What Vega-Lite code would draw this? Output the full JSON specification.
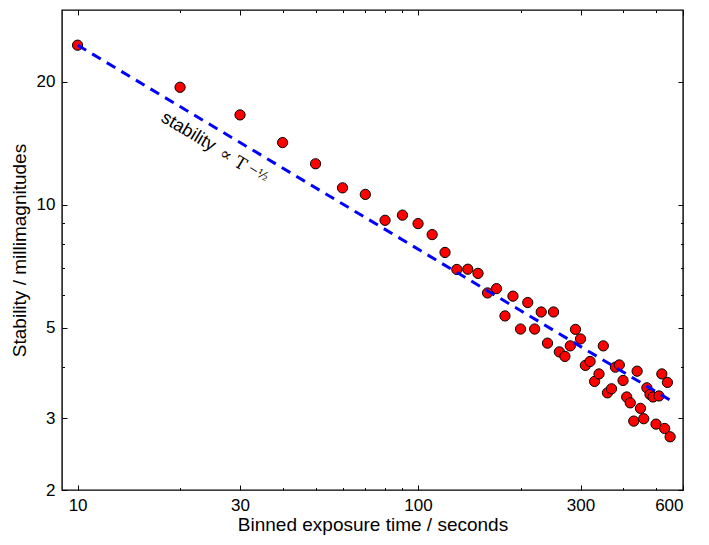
{
  "$schema": "https://vega.github.io/schema/vega-lite/v6.json",
  "width": 621,
  "height": 480,
  "autosize": {"type": "none"},
  "padding": {"left": 62, "top": 10, "right": 26, "bottom": 55},
  "config": {
    "view": {"stroke": "#000", "strokeWidth": 1.4},
    "font": "Liberation Sans",
    "axis": {
      "domain": false,
      "grid": false,
      "labelFontSize": 17,
      "labelColor": "#000",
      "titleFontSize": 19,
      "titleFontWeight": "normal",
      "titleColor": "#000",
      "tickColor": "#000",
      "tickWidth": 1,
      "format": "d"
    }
  },
  "resolve": {"axis": {"x": "independent", "y": "independent"}},
  "layer": [
    {
      "data": {
        "values": [
          {"t": 10, "s": 24.6}, {"t": 20, "s": 19.4}, {"t": 30, "s": 16.6},
          {"t": 40, "s": 14.2}, {"t": 50, "s": 12.6}, {"t": 60, "s": 11.0},
          {"t": 70, "s": 10.6}, {"t": 80, "s": 9.16}, {"t": 90, "s": 9.43},
          {"t": 100, "s": 8.99}, {"t": 110, "s": 8.45}, {"t": 120, "s": 7.64},
          {"t": 130, "s": 6.94}, {"t": 140, "s": 6.95}, {"t": 150, "s": 6.79},
          {"t": 160, "s": 6.08}, {"t": 170, "s": 6.23}, {"t": 180, "s": 5.34},
          {"t": 190, "s": 5.97}, {"t": 200, "s": 4.96}, {"t": 210, "s": 5.76},
          {"t": 220, "s": 4.96}, {"t": 230, "s": 5.46}, {"t": 240, "s": 4.58},
          {"t": 250, "s": 5.46}, {"t": 260, "s": 4.36}, {"t": 270, "s": 4.25},
          {"t": 280, "s": 4.51}, {"t": 290, "s": 4.95}, {"t": 300, "s": 4.69},
          {"t": 310, "s": 4.04}, {"t": 320, "s": 4.13}, {"t": 330, "s": 3.69},
          {"t": 340, "s": 3.85}, {"t": 350, "s": 4.51}, {"t": 360, "s": 3.46},
          {"t": 370, "s": 3.54}, {"t": 380, "s": 4.0}, {"t": 390, "s": 4.05},
          {"t": 400, "s": 3.71}, {"t": 410, "s": 3.38}, {"t": 420, "s": 3.27},
          {"t": 430, "s": 2.95}, {"t": 440, "s": 3.91}, {"t": 450, "s": 3.17},
          {"t": 460, "s": 2.99}, {"t": 470, "s": 3.56}, {"t": 480, "s": 3.43},
          {"t": 490, "s": 3.38}, {"t": 500, "s": 2.9}, {"t": 510, "s": 3.4},
          {"t": 520, "s": 3.85}, {"t": 530, "s": 2.83}, {"t": 540, "s": 3.67},
          {"t": 550, "s": 2.7}
        ]
      },
      "mark": {"type": "point", "shape": "circle", "filled": true, "fill": "#ff0000", "stroke": "#000", "strokeWidth": 1, "size": 105, "opacity": 1},
      "encoding": {
        "x": {
          "field": "t", "type": "quantitative",
          "scale": {"type": "log", "domain": [9, 600], "nice": false},
          "axis": {"orient": "bottom", "values": [10, 30, 100, 300, 600], "tickSize": -5, "labelPadding": 12, "title": "Binned exposure time / seconds", "titlePadding": 2}
        },
        "y": {
          "field": "s", "type": "quantitative",
          "scale": {"type": "log", "domain": [2, 30], "nice": false},
          "axis": {"orient": "left", "values": [2, 3, 5, 10, 20], "tickSize": -5, "labelPadding": 12, "title": "Stability / millimagnitudes", "titlePadding": 7}
        }
      }
    },
    {
      "data": {"values": [{"t": 10, "s": 24.6}, {"t": 550, "s": 3.32}]},
      "mark": {"type": "line", "color": "#0000ff", "strokeWidth": 3, "strokeDash": [10, 7]},
      "encoding": {
        "x": {
          "field": "t", "type": "quantitative",
          "scale": {"type": "log", "domain": [9, 600], "nice": false},
          "axis": {"orient": "top", "values": [10, 30, 100, 300, 600], "tickSize": -5, "labels": false, "title": null}
        },
        "y": {
          "field": "s", "type": "quantitative",
          "scale": {"type": "log", "domain": [2, 30], "nice": false},
          "axis": {"orient": "right", "values": [2, 3, 5, 10, 20], "tickSize": -5, "labels": false, "title": null}
        }
      }
    },
    {
      "data": {"values": [{"t": 21.15, "s": 15.08, "label": "stability"}]},
      "mark": {"type": "text", "angle": 31, "align": "center", "baseline": "middle", "font": "Liberation Sans", "fontSize": 18, "color": "#000"},
      "encoding": {
        "text": {"field": "label"},
        "x": {
          "field": "t", "type": "quantitative",
          "scale": {"type": "log", "domain": [9, 600], "nice": false},
          "axis": {"orient": "bottom", "values": [20, 40, 50, 60, 70, 80, 90, 200, 400, 500], "tickSize": -2.5, "labels": false, "title": null}
        },
        "y": {
          "field": "s", "type": "quantitative",
          "scale": {"type": "log", "domain": [2, 30], "nice": false},
          "axis": {"orient": "left", "values": [4, 6, 7, 8, 9], "tickSize": -2.5, "labels": false, "title": null}
        }
      }
    },
    {
      "data": {"values": [{"t": 28.6, "s": 12.9, "label": "∝ T"}]},
      "mark": {"type": "text", "angle": 31, "align": "center", "baseline": "middle", "font": "DejaVu Serif", "fontSize": 17, "color": "#000"},
      "encoding": {
        "text": {"field": "label"},
        "x": {
          "field": "t", "type": "quantitative",
          "scale": {"type": "log", "domain": [9, 600], "nice": false},
          "axis": {"orient": "top", "values": [20, 40, 50, 60, 70, 80, 90, 200, 400, 500], "tickSize": -2.5, "labels": false, "title": null}
        },
        "y": {
          "field": "s", "type": "quantitative",
          "scale": {"type": "log", "domain": [2, 30], "nice": false},
          "axis": {"orient": "right", "values": [4, 6, 7, 8, 9], "tickSize": -2.5, "labels": false, "title": null}
        }
      }
    },
    {
      "data": {"values": [{"t": 34.0, "s": 12.0, "label": "−½"}]},
      "mark": {"type": "text", "angle": 31, "align": "center", "baseline": "middle", "font": "DejaVu Serif", "fontSize": 12, "color": "#000"},
      "encoding": {
        "text": {"field": "label"},
        "x": {"field": "t", "type": "quantitative", "scale": {"type": "log", "domain": [9, 600], "nice": false}, "axis": null},
        "y": {"field": "s", "type": "quantitative", "scale": {"type": "log", "domain": [2, 30], "nice": false}, "axis": null}
      }
    }
  ]
}
